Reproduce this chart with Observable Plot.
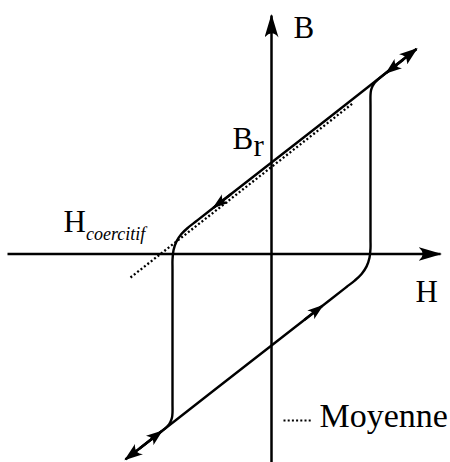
<!DOCTYPE html>
<html><head><meta charset="utf-8">
<script src="https://cdn.jsdelivr.net/npm/d3@7"></script>
<script src="https://cdn.jsdelivr.net/npm/@observablehq/plot@0.6"></script>
<style>body{margin:0;background:#fff}</style>
</head><body><div id="chart"></div>
<script>
// Hysteresis loop (H, B), arbitrary units.
// Ascending branch: from negative saturation tip up to positive saturation tip
const ascH = [-1.46, -0.60, 0, 0.60, 0.75, 0.832, 0.901, 0.951, 0.980, 0.99, 0.99, 0.99, 0.99, 0.995, 1.010, 1.034, 1.069, 1.45];
const ascB = [-2.054, -1.383, -0.915, -0.447, -0.33, -0.266, -0.200, -0.124, -0.038, 0.057, 0.15, 1.49, 1.587, 1.635, 1.678, 1.716, 1.749, 2.05];
// Descending branch: from positive saturation tip down to negative saturation tip
const descH = [1.45, 0.60, 0, -0.60, -0.75, -0.832, -0.901, -0.951, -0.980, -0.99, -0.99, -0.99, -0.99, -0.995, -1.010, -1.034, -1.069, -1.46];
const descB = [2.05, 1.383, 0.915, 0.447, 0.33, 0.266, 0.200, 0.124, 0.038, -0.057, -0.15, -1.49, -1.587, -1.635, -1.678, -1.716, -1.749, -2.054];
// inward arrowheads at the saturation ends
const innerId = ["top", "top", "bottom", "bottom"];
const innerH = [1.32, 1.15, -1.32, -1.10];
const innerB = [1.945, 1.812, -1.945, -1.773];
// direction arrows on the branches
const dirId = ["up", "up", "low", "low"];
const dirH = [-0.40, -0.58, 0.33, 0.51];
const dirB = [0.603, 0.463, -0.658, -0.517];
// mean (Moyenne) dotted line
const meanH = [-1.41, 0.81];
const meanB = [-0.235, 1.505];
// axes
const axisId = ["H", "H", "B", "B"];
const axisH = [-2.64, 1.69, 0, 0];
const axisB = [0, 0, -2.09, 2.385];
// legend swatch
const legH = [0.12, 0.41];
const legB = [-1.665, -1.665];
// labels
const bigLabels = ["B", "B", "H", "H"];
const bigLabelH = [0.22, -0.39, -2.08, 1.44];
const bigLabelB = [2.165, 1.055, 0.225, -0.475];
const subR = {text: "r", H: -0.18, B: 0.985};
const subC = {text: "coercitif", H: -1.855, B: 0.14};
const legendText = {text: "Moyenne", H: 0.48, B: -1.725};

const zip = (ids, hs, bs) => hs.map((h, i) => ({id: ids ? ids[i] : 0, H: h, B: bs[i]}));
const branches = [
  ...ascH.map((h, i) => ({id: "asc", H: h, B: ascB[i]})),
  ...descH.map((h, i) => ({id: "desc", H: h, B: descB[i]}))
];

function stealth(len, half) {
  return (color, context) => {
    const doc = (context && context.document) || document;
    const ns = "http://www.w3.org/2000/svg";
    const m = doc.createElementNS(ns, "marker");
    m.setAttribute("viewBox", `${-len} ${-half} ${len + 2} ${2 * half}`);
    m.setAttribute("markerUnits", "userSpaceOnUse");
    m.setAttribute("markerWidth", len + 2);
    m.setAttribute("markerHeight", 2 * half);
    m.setAttribute("refX", 0);
    m.setAttribute("refY", 0);
    m.setAttribute("orient", "auto");
    const p = doc.createElementNS(ns, "path");
    p.setAttribute("d", `M1.5,0L${-len},${-half}Q${-0.62 * len},0 ${-len},${half}Z`);
    p.setAttribute("fill", color === "currentColor" ? "black" : color);
    p.setAttribute("stroke", "none");
    m.appendChild(p);
    return m;
  };
}

const serif = "Liberation Serif, Times New Roman, serif";

const chart = Plot.plot({
  width: 450,
  height: 462,
  margin: 0,
  x: {domain: [-2.71, 1.79], axis: null},
  y: {domain: [-2.085, 2.535], axis: null},
  style: {background: "white"},
  marks: [
    Plot.line(zip(axisId, axisH, axisB), {x: "H", y: "B", z: "id", stroke: "black", strokeWidth: 2.5, strokeLinecap: "butt", markerEnd: stealth(22, 7)}),
    Plot.line(zip(null, meanH, meanB), {x: "H", y: "B", stroke: "black", strokeWidth: 2.3, strokeDasharray: "2,2.3", strokeLinecap: "butt"}),
    Plot.line(branches, {x: "H", y: "B", z: "id", stroke: "black", strokeWidth: 2.4, curve: "catmull-rom", strokeLinecap: "butt", markerEnd: stealth(17, 6.5)}),
    Plot.line(zip(innerId, innerH, innerB), {x: "H", y: "B", z: "id", stroke: "black", strokeWidth: 2.4, strokeLinecap: "butt", markerEnd: stealth(15, 6)}),
    Plot.line(zip(dirId, dirH, dirB), {x: "H", y: "B", z: "id", stroke: "black", strokeWidth: 2.4, strokeLinecap: "butt", markerEnd: stealth(15, 5.5)}),
    Plot.line(zip(null, legH, legB), {x: "H", y: "B", stroke: "black", strokeWidth: 2, strokeDasharray: "2,2.2", strokeLinecap: "butt"}),
    Plot.text(zip(null, bigLabelH, bigLabelB).map((d, i) => ({...d, t: bigLabels[i]})), {x: "H", y: "B", text: "t", fontSize: 31, fontFamily: serif, textAnchor: "start", lineAnchor: "bottom", fill: "black"}),
    Plot.text([subR], {x: "H", y: "B", text: "text", fontSize: 31, fontFamily: serif, textAnchor: "start", lineAnchor: "bottom", fill: "black"}),
    Plot.text([subC], {x: "H", y: "B", text: "text", fontSize: 18, fontStyle: "italic", fontFamily: serif, textAnchor: "start", lineAnchor: "bottom", fill: "black"}),
    Plot.text([legendText], {x: "H", y: "B", text: "text", fontSize: 34, fontFamily: serif, textAnchor: "start", lineAnchor: "bottom", fill: "black"})
  ]
});
document.getElementById("chart").appendChild(chart);
</script>
</body></html>
